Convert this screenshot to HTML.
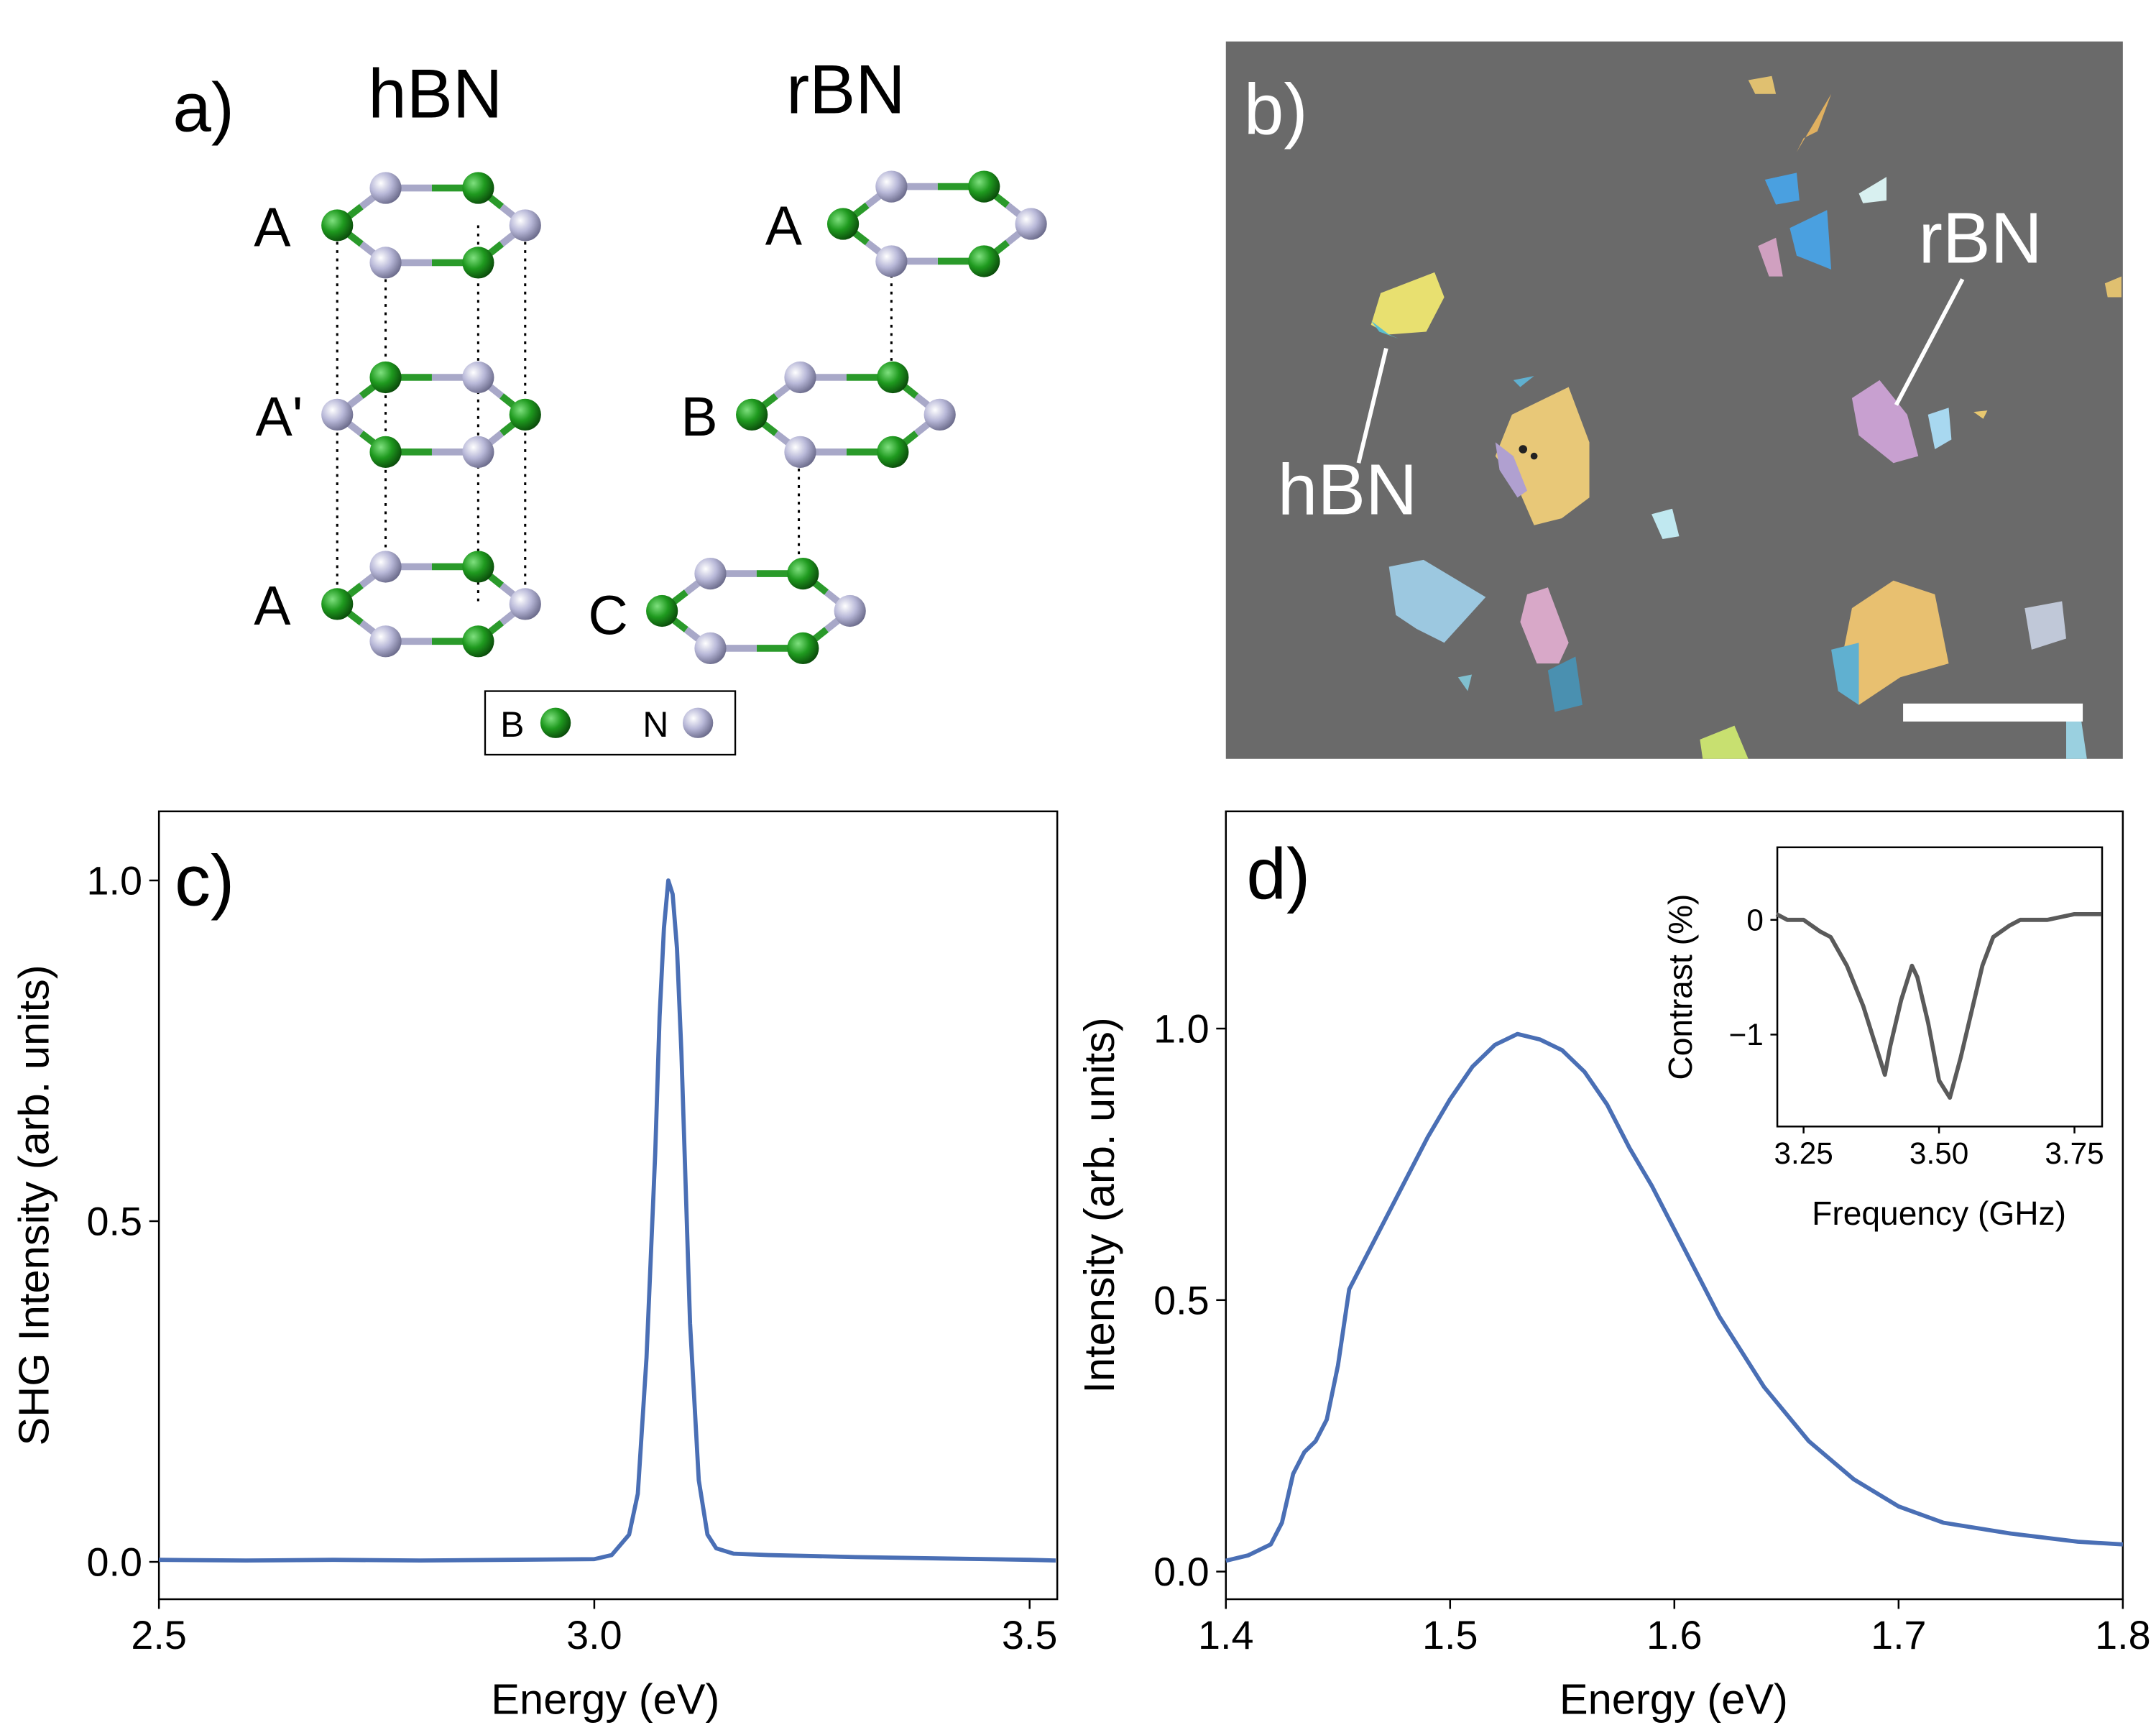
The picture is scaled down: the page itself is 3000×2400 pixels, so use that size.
<!DOCTYPE html>
<html><head><meta charset="utf-8"><style>
html,body{margin:0;padding:0;background:#fff;}
svg{display:block;font-family:"Liberation Sans",sans-serif;}
</style></head><body>
<svg id="fig" width="3000" height="2400" viewBox="0 0 1560 1248" xmlns="http://www.w3.org/2000/svg">
<defs>
<radialGradient id="gB" cx="35%" cy="35%" r="70%"><stop offset="0" stop-color="#7fe07f"/><stop offset="0.5" stop-color="#1f9a1f"/><stop offset="1" stop-color="#0a4a0a"/></radialGradient>
<radialGradient id="gN" cx="35%" cy="35%" r="70%"><stop offset="0" stop-color="#ffffff"/><stop offset="0.5" stop-color="#b8b8d8"/><stop offset="1" stop-color="#6a6a8a"/></radialGradient>
</defs>
<g id="panelA">
<text x="125" y="95" font-size="50">a)</text>
<text x="315" y="85" font-size="50" text-anchor="middle">hBN</text>
<text x="612" y="82" font-size="50" text-anchor="middle">rBN</text>
<text x="197" y="178" font-size="40" text-anchor="middle">A</text>
<text x="202" y="315" font-size="40" text-anchor="middle">A'</text>
<text x="197" y="452" font-size="40" text-anchor="middle">A</text>
<text x="567" y="177" font-size="40" text-anchor="middle">A</text>
<text x="506" y="315" font-size="40" text-anchor="middle">B</text>
<text x="440" y="459" font-size="40" text-anchor="middle">C</text>
<g stroke="#000" stroke-width="1.6" stroke-dasharray="2,4">
<line x1="244" y1="163" x2="244" y2="437"/><line x1="279" y1="190" x2="279" y2="410"/>
<line x1="346" y1="163" x2="346" y2="437"/><line x1="380" y1="163" x2="380" y2="437"/>
<line x1="645" y1="187" x2="645" y2="273"/><line x1="578" y1="327" x2="578" y2="415"/>
</g>
<g id="mols"></g>
<rect x="351" y="500" width="181" height="46" fill="#fff" stroke="#000" stroke-width="1.2"/>
<text x="362" y="533" font-size="26">B</text>
<circle cx="402" cy="523" r="11" fill="url(#gB)"/>
<text x="465" y="533" font-size="26">N</text>
<circle cx="505" cy="523" r="11" fill="url(#gN)"/>
</g>
<g id="panelB">
<rect x="887" y="30" width="649" height="519" fill="#6a6a6a"/>
<g stroke="none">
<polygon points="999,212 1038,197 1045,215 1032,240 1005,242 992,235" fill="#e8e070"/>
<polygon points="992,232 1005,242 1012,245 998,240" fill="#5ac0d0"/>
<polygon points="1094,300 1135,280 1150,320 1150,360 1130,375 1110,380 1097,350 1082,330" fill="#e8c878"/>
<polygon points="1082,320 1095,330 1105,355 1098,360 1085,340" fill="#b0a0d0"/>
<polygon points="1005,410 1030,405 1075,432 1045,465 1025,455 1010,445" fill="#9cc8e0"/>
<polygon points="1105,430 1120,425 1135,465 1128,480 1112,480 1100,450" fill="#d8a8c8"/>
<polygon points="1120,485 1140,475 1145,510 1125,515" fill="#4a90b0"/>
<polygon points="1195,372 1210,368 1215,388 1203,390" fill="#c0e8f0"/>
<polygon points="1340,288 1360,275 1380,300 1388,330 1370,335 1345,315" fill="#c8a0d0"/>
<polygon points="1395,300 1410,295 1412,318 1400,325" fill="#a8d8f0"/>
<polygon points="1300,110 1325,68 1315,95 1305,100" fill="#e0b060"/>
<polygon points="1265,58 1282,55 1285,68 1270,68" fill="#e0c070"/>
<polygon points="1277,130 1300,125 1302,145 1285,148" fill="#4aa0e0"/>
<polygon points="1295,165 1322,152 1325,195 1300,185" fill="#4aa0e0"/>
<polygon points="1272,178 1285,172 1290,200 1280,200" fill="#d0a0c0"/>
<polygon points="1345,140 1365,128 1365,145 1348,147" fill="#d8f0f0"/>
<polygon points="1340,440 1370,420 1400,430 1410,480 1375,490 1345,510 1330,490" fill="#e8c070"/>
<polygon points="1325,470 1345,465 1345,510 1330,500" fill="#60b0d0"/>
<polygon points="1465,440 1492,435 1495,462 1470,470" fill="#c0c8d8"/>
<polygon points="1523,205 1535,200 1535,215 1525,215" fill="#e0c070"/>
<polygon points="1230,535 1255,525 1265,549 1232,549" fill="#c8e070"/>
<polygon points="1055,490 1065,488 1062,500" fill="#80c0d0"/>
<polygon points="1095,275 1110,272 1100,280" fill="#60b0d0"/>
<polygon points="1428,298 1438,297 1435,303" fill="#e8c870"/>
<polygon points="1495,520 1505,515 1510,549 1495,549" fill="#9ad0e0"/>
</g>
<g fill="#222">
<circle cx="1102" cy="325" r="3"/><circle cx="1110" cy="330" r="2.5"/>
</g>
<text x="900" y="97" font-size="52" fill="#fff">b)</text>
<text x="975" y="372" font-size="52" fill="#fff" text-anchor="middle">hBN</text>
<line x1="1003" y1="252" x2="983" y2="335" stroke="#fff" stroke-width="3"/>
<text x="1433" y="190" font-size="52" fill="#fff" text-anchor="middle">rBN</text>
<line x1="1420" y1="202" x2="1372" y2="293" stroke="#fff" stroke-width="3"/>
<rect x="1377" y="509" width="130" height="13" fill="#fff"/>
</g>
<g id="panelC"></g>
<g id="panelD"></g>
<g id="inset"></g>
</svg>
<script>
// Panel c data
const shgEnergy = [2.5,2.6,2.7,2.8,2.9,3.0,3.02,3.04,3.05,3.06,3.07,3.075,3.08,3.085,3.09,3.095,3.10,3.105,3.11,3.12,3.13,3.14,3.16,3.2,3.3,3.4,3.5,3.53];
const shgIntensity = [0.003,0.002,0.003,0.002,0.003,0.004,0.01,0.04,0.1,0.3,0.6,0.8,0.93,1.0,0.98,0.9,0.75,0.55,0.35,0.12,0.04,0.02,0.012,0.01,0.007,0.005,0.003,0.002];
const shgXTicks = [2.5,3.0,3.5];
const shgYTicks = [0.0,0.5,1.0];
// Panel d data
const plEnergy = [1.4,1.41,1.42,1.425,1.43,1.435,1.44,1.445,1.45,1.455,1.46,1.47,1.48,1.49,1.50,1.51,1.52,1.53,1.54,1.55,1.56,1.57,1.58,1.59,1.60,1.61,1.62,1.64,1.66,1.68,1.70,1.72,1.75,1.78,1.8];
const plIntensity = [0.02,0.03,0.05,0.09,0.18,0.22,0.24,0.28,0.38,0.52,0.56,0.64,0.72,0.80,0.87,0.93,0.97,0.99,0.98,0.96,0.92,0.86,0.78,0.71,0.63,0.55,0.47,0.34,0.24,0.17,0.12,0.09,0.07,0.055,0.05];
const plXTicks = [1.4,1.5,1.6,1.7,1.8];
const plYTicks = [0.0,0.5,1.0];
// Inset data
const odmrFreq = [3.20,3.22,3.25,3.28,3.30,3.33,3.36,3.38,3.40,3.41,3.43,3.45,3.46,3.48,3.50,3.52,3.54,3.56,3.58,3.60,3.63,3.65,3.70,3.75,3.80];
const odmrContrast = [0.05,0.0,0.0,-0.1,-0.15,-0.4,-0.75,-1.05,-1.35,-1.1,-0.7,-0.4,-0.5,-0.9,-1.4,-1.55,-1.2,-0.8,-0.4,-0.15,-0.05,0.0,0.0,0.05,0.05];
const odmrXTicks = [3.25,3.50,3.75];
const odmrYTicks = [0,-1];
const NS="http://www.w3.org/2000/svg";
function mk(tag,attrs,parent){const e=document.createElementNS(NS,tag);for(const k in attrs)e.setAttribute(k,attrs[k]);parent.appendChild(e);return e;}
function lin(d0,d1,r0,r1){return v=>r0+(v-d0)/(d1-d0)*(r1-r0);}

// molecules
const mols=document.getElementById('mols');
const off=[[-68,0],[-33,-27],[34,-27],[68,0],[34,27],[-33,27]];
const layers=[[312,163,0],[312,300,1],[312,437,0],[678,162,0],[612,300,0],[547,442,0]];
layers.forEach(L=>{
  const g=mk('g',{},mols);
  
  
  const pts=off.map(o=>[L[0]+o[0],L[1]+o[1]]);
  for(let i=0;i<6;i++){const a=pts[i],b=pts[(i+1)%6];
    const isB=((i+L[2])%2===0);
    const mx=(a[0]+b[0])/2,my=(a[1]+b[1])/2;
    mk('line',{x1:a[0],y1:a[1],x2:mx,y2:my,stroke:isB?'#2a9a2a':'#a8a8c8','stroke-width':5},g);
    mk('line',{x1:mx,y1:my,x2:b[0],y2:b[1],stroke:isB?'#a8a8c8':'#2a9a2a','stroke-width':5},g);}
  pts.forEach((p,i)=>{const isB=((i+L[2])%2===0);
    const c=mk('circle',{cx:p[0],cy:p[1],r:11.5,fill:isB?'url(#gB)':'url(#gN)'},g);
    
    });
});

function chart(gid,box,xd,yd,xs,ys,xt,yt,fmtX,fmtY,opts){
  const g=document.getElementById(gid);
  const X=lin(xd[0],xd[1],box.x0,box.x1),Y=lin(yd[0],yd[1],box.y0,box.y1);
  const fr=mk('rect',{x:box.x0,y:box.y1,width:box.x1-box.x0,height:box.y0-box.y1,fill:'none',stroke:'#000','stroke-width':1.3},g);
  
  
  xt.forEach(t=>{const x=X(t);
    mk('line',{x1:x,y1:box.y0,x2:x,y2:box.y0+opts.tl,stroke:'#000','stroke-width':1.3},g);
    const tx=mk('text',{x:x,y:box.y0+opts.tl+opts.fs,'font-size':opts.fs,'text-anchor':'middle'},g);
    tx.textContent=fmtX(t);
    
    });
  yt.forEach(t=>{const y=Y(t);
    mk('line',{x1:box.x0,y1:y,x2:box.x0-opts.tl,y2:y,stroke:'#000','stroke-width':1.3},g);
    const tx=mk('text',{x:box.x0-opts.tl-5,y:y+opts.fs*0.35,'font-size':opts.fs,'text-anchor':'end'},g);
    tx.textContent=fmtY(t);
    
    });
  const d=xs.map((v,i)=>(i?'L':'M')+X(v).toFixed(2)+','+Y(ys[i]).toFixed(2)).join('');
  const p=mk('path',{d:d,fill:'none',stroke:opts.color,'stroke-width':opts.lw,'stroke-linejoin':'round'},g);
  
  
  return g;
}
function label(g,x,y,txt,fs,rot,name){
  const t=mk('text',{x:x,y:y,'font-size':fs,'text-anchor':'middle'},g);
  if(rot)t.setAttribute('transform','rotate(-90 '+x+' '+y+')');
  t.textContent=txt;
  
  
}
const gc=chart('panelC',{x0:115,x1:765,y0:1157,y1:587},[2.5,2.5+650/630],[-0.0548,1.1014],shgEnergy,shgIntensity,shgXTicks,shgYTicks,v=>v.toFixed(1),v=>v.toFixed(1),{tl:7,fs:29,color:'#4a6fb5',lw:3});
label(gc,438,1240,'Energy (eV)',31,false,'x-axis-title');
label(gc,35,872,'SHG Intensity (arb. units)',31,true,'y-axis-title');
label(gc,148,655,'c)',52,false,'panel-c-label');
const gd=chart('panelD',{x0:887,x1:1536,y0:1157,y1:587},[1.4,1.8],[-0.0509,1.4],plEnergy,plIntensity,plXTicks,plYTicks,v=>v.toFixed(1),v=>v.toFixed(1),{tl:7,fs:29,color:'#4a6fb5',lw:3});
label(gd,1211,1240,'Energy (eV)',31,false,'x-axis-title');
label(gd,806,872,'Intensity (arb. units)',31,true,'y-axis-title');
label(gd,925,650,'d)',52,false,'panel-d-label');
const gi=chart('inset',{x0:1286,x1:1521,y0:815,y1:613},[3.2015,3.8010],[-1.8012,0.6325],odmrFreq,odmrContrast,odmrXTicks,odmrYTicks,v=>v.toFixed(2),v=>v===0?'0':'\u2212'+Math.abs(v),{tl:5,fs:22,color:'#5a5a5a',lw:3});
label(gi,1403,886,'Frequency (GHz)',24,false,'inset-x-axis-title');
label(gi,1224,714,'Contrast (%)',24,true,'inset-y-axis-title');
</script>
</body></html>
